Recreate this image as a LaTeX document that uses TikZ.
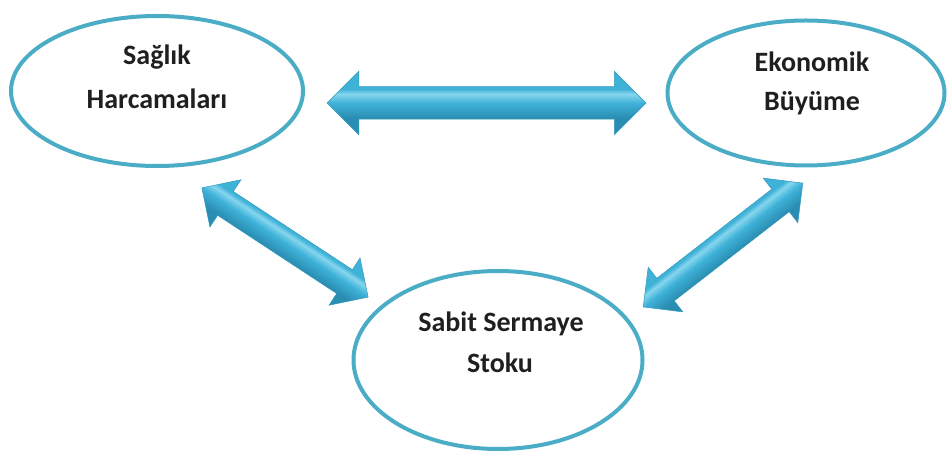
\documentclass[tikz,border=0pt]{standalone}
\usepackage{fontspec}
\setmainfont{Carlito}
\usetikzlibrary{shapes.geometric,shapes.arrows}
\definecolor{ring}{HTML}{4BACC6}
\definecolor{arrlight}{HTML}{86D6EE}
\definecolor{arrmid}{HTML}{3FB2D8}
\definecolor{arrbot}{HTML}{2A8DB2}
\definecolor{arredge}{HTML}{3399BD}
\pgfdeclareverticalshading{tube}{100bp}{color(0bp)=(arrbot); color(38bp)=(arrbot); color(50bp)=(arrmid); color(57bp)=(arrlight); color(61bp)=(arrmid); color(66bp)=(arrmid); color(100bp)=(arrmid)}
\begin{document}
\begin{tikzpicture}[x=1pt,y=1pt,
  oval/.style={ellipse, draw=ring, line width=4pt, inner sep=0pt},
  lbl/.style={anchor=base, inner sep=0pt, font=\fontsize{28}{34}\selectfont\bfseries, text=black!88},
  darrow/.style={double arrow, draw=arredge, line width=0.5pt, inner sep=0pt,
    shading=tube, double arrow head indent=0pt}]
\useasboundingbox (0,0) rectangle (950,455);
% ellipses
\node[oval, minimum width=292pt, minimum height=150pt] (sh) at (157,364) {};
\node[oval, minimum width=277pt, minimum height=145pt] (eb) at (806,362) {};
\node[oval, minimum width=289pt, minimum height=178pt] (ss) at (498,95) {};
% texts
\node[lbl] (sh1) at (157,390) {Sağlık};
\node[lbl] (sh2) at (157,346) {Harcamaları};
\node[lbl] (eb1) at (812,383) {Ekonomik};
\node[lbl] (eb2) at (812,344) {Büyüme};
\node[lbl] (ss1) at (501,123) {Sabit Sermaye};
\node[lbl] (ss2) at (500,82) {Stoku};
% arrows
\node[darrow, inner ysep=16pt, double arrow head extend=15.5pt, minimum height=319pt]
  (ah) at (486.5,352) {};
\begin{scope}[transform canvas={shift={(285,212.5)}, rotate=-33.3}]
\node[darrow, inner ysep=14pt, double arrow head extend=14pt, minimum height=199pt]
  (al) at (0,0) {};
\end{scope}
\begin{scope}[transform canvas={shift={(723,210)}, rotate=37.8}]
\node[darrow, inner ysep=14pt, double arrow head extend=14pt, minimum height=202pt]
  (ar) at (0,0) {};
\end{scope}
\end{tikzpicture}
\end{document}
